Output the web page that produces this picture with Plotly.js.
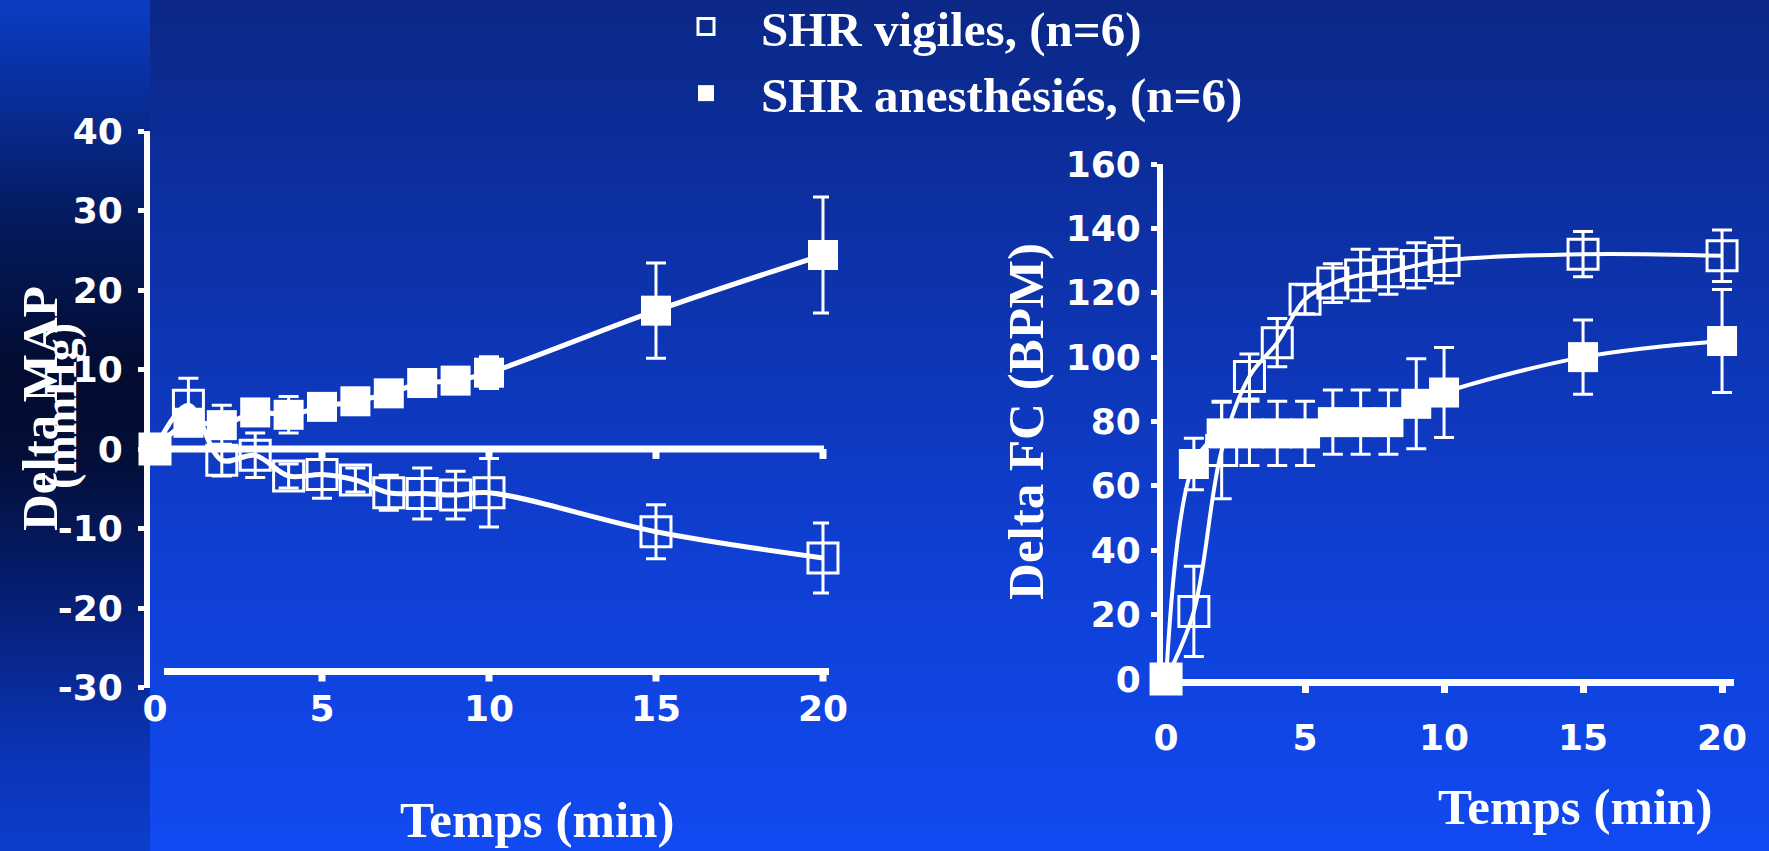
<!DOCTYPE html>
<html>
<head>
<meta charset="utf-8">
<script src="https://cdn.plot.ly/plotly-3.0.1.min.js"></script>
<style>
  html, body { margin: 0; padding: 0; overflow: hidden; }
  #bg { position: absolute; left: 0; top: 0; width: 1769px; height: 851px;
        background: linear-gradient(to bottom, #0b2887 0%, #0d33ad 35%, #0f3fd2 65%, #114af2 100%); }
  #strip { position: absolute; left: 0; top: 0; width: 150px; height: 851px;
        background: linear-gradient(to bottom, #0b3cc4 0%, #082d98 12%, #041a5c 26%, #020c30 44%, #030f38 54%, #06207a 72%, #0b34b4 88%, #0d3dcc 100%); }
  #chart { position: absolute; left: 0; top: 0; width: 1769px; height: 851px; }
</style>
</head>
<body>
<div id="bg"></div>
<div id="strip"></div>
<div id="chart"></div>
<script>
// ---------- data ----------
const time = [0, 1, 2, 3, 4, 5, 6, 7, 8, 9, 10, 15, 20];

// Delta MAP (mmHg)
const mapVigiles    = [0, 5.5, -1.4, -0.8, -3.4, -3.2, -3.9, -5.5, -5.6, -5.8, -5.5, -10.4, -13.7];
const mapVigilesErr = [0, 3.4, 2.0, 2.8, 1.5, 3.0, 1.5, 2.2, 3.2, 3.0, 4.3, 3.4, 4.4];
const mapAnesth     = [0, 3.3, 3.0, 4.6, 4.3, 5.3, 6.0, 7.0, 8.3, 8.6, 9.6, 17.4, 24.4];
const mapAnesthErr  = [0, 1.5, 2.5, 1.5, 2.3, 1.5, 1.2, 1.2, 1.2, 1.0, 2.0, 6.0, 7.3];

// Delta FC (BPM)
const fcVigiles     = [0, 21, 71, 94, 104.5, 118, 123, 125.5, 126.5, 128.5, 130, 132, 131.5];
const fcVigilesErr  = [0, 14, 15, 7, 7.5, 4.5, 6, 8, 7, 7, 7, 7, 8];
const fcAnesth      = [0, 66.8, 76.3, 76.3, 76.3, 76.3, 79.8, 79.8, 79.8, 85.5, 89, 100, 105];
const fcAnesthErr   = [0, 8, 10, 10, 10, 10, 10, 10, 10, 14, 14, 11.5, 16];

const xTicks = [0, 5, 10, 15, 20];
const refTicks = [5, 10, 15, 20];
const mapTicks = [-30, -20, -10, 0, 10, 20, 30, 40];
const mapTickText = ['-30', '-20', '-10', '0', '10', '20', '30', '40'];
const seriesNames = ['SHR vigiles, (n=6)', 'SHR anesthésiés, (n=6)'];
const titleMAP = 'Delta MAP';
const unitMAP = '(mmHg)';
const titleFC = 'Delta FC (BPM)';
const titleTime = 'Temps (min)';

// ---------- styling ----------
const W = 1769, H = 851;
const WHITE = '#ffffff';
const serif = 'Liberation Serif, Times New Roman, serif';
const sans = 'DejaVu Sans, Verdana, sans-serif';
const tickFont = { family: sans, size: 36, color: WHITE, weight: 'bold' };
const px = v => v / W;
const py = v => 1 - v / H;

function lineTrace(y, xa, ya, w) {
  return { x: time, y: y, xaxis: xa, yaxis: ya, mode: 'lines', showlegend: false,
           hoverinfo: 'skip', cliponaxis: false,
           line: { shape: 'spline', smoothing: 1, color: WHITE, width: w } };
}
function markerTrace(y, err, xa, ya, filled, name, showlegend) {
  return { x: time, y: y, xaxis: xa, yaxis: ya, mode: 'markers', name: name,
           showlegend: showlegend, legendrank: filled ? 2 : 1, cliponaxis: false,
           marker: { symbol: filled ? 'square' : 'square-open', size: 30, color: WHITE,
                     line: { color: WHITE, width: filled ? 0 : 3 } },
           error_y: { type: 'data', array: err, visible: true, color: WHITE, thickness: 3, width: 10 } };
}

const traces = [
  lineTrace(mapVigiles, 'x', 'y', 5),
  lineTrace(mapAnesth, 'x', 'y', 5),
  lineTrace(fcVigiles, 'x2', 'y2', 4),
  lineTrace(fcAnesth, 'x2', 'y2', 4),
  markerTrace(mapVigiles, mapVigilesErr, 'x', 'y', false, seriesNames[0], true),
  markerTrace(mapAnesth, mapAnesthErr, 'x', 'y', true, seriesNames[1], true),
  markerTrace(fcVigiles, fcVigilesErr, 'x2', 'y2', false, seriesNames[0], false),
  markerTrace(fcAnesth, fcAnesthErr, 'x2', 'y2', true, seriesNames[1], false)
];

// reference lines of the left panel (zero line and lower baseline) with their tick marks
const shapes = [];
const leftRefLines = [ { y: 0, x0: -0.15, x1: 20.03 }, { y: -28, x0: 0.27, x1: 20.2 } ];
leftRefLines.forEach(r => {
  shapes.push({ type: 'line', xref: 'x', yref: 'y', x0: r.x0, x1: r.x1, y0: r.y, y1: r.y,
                line: { color: WHITE, width: 7 }, layer: 'below' });
  refTicks.forEach(t => shapes.push({ type: 'line', xref: 'x', yref: 'y', x0: t, x1: t,
                y0: r.y, y1: r.y - 1.25, line: { color: WHITE, width: 7 }, layer: 'below' }));
});

const layout = {
  width: W, height: H,
  margin: { l: 0, r: 0, t: 0, b: 0, autoexpand: false },
  paper_bgcolor: 'rgba(0,0,0,0)',
  plot_bgcolor: 'rgba(0,0,0,0)',
  showlegend: true,
  legend: { x: px(651), y: 1.014, xanchor: 'left', yanchor: 'top', orientation: 'v',
            bgcolor: 'rgba(0,0,0,0)', itemsizing: 'trace', itemwidth: 100,
            font: { family: serif, size: 49, color: WHITE, weight: 'bold' } },
  xaxis: { domain: [px(150), px(829)], range: [-0.15, 20.18], anchor: 'y', automargin: false,
           showline: false, zeroline: false, showgrid: false, ticks: '',
           tickmode: 'array', tickvals: xTicks, tickfont: tickFont, ticklabelstandoff: -4 },
  yaxis: { domain: [py(687.5), py(131)], range: [-30, 40], anchor: 'x', automargin: false,
           showline: true, linecolor: WHITE, linewidth: 6, zeroline: false, showgrid: false,
           ticks: 'outside', ticklen: 6, tickwidth: 5, tickcolor: WHITE,
           tickmode: 'array', tickvals: mapTicks, ticktext: mapTickText,
           tickfont: tickFont, ticklabelstandoff: 8 },
  xaxis2: { domain: [px(1163), px(1734)], range: [-0.11, 20.43], anchor: 'y2', automargin: false,
            showline: true, linecolor: WHITE, linewidth: 7, zeroline: false, showgrid: false,
            ticks: 'outside', ticklen: 7, tickwidth: 7, tickcolor: WHITE,
            tickmode: 'array', tickvals: xTicks, tickfont: tickFont, ticklabelstandoff: 14 },
  yaxis2: { domain: [py(679), py(164)], range: [0, 160], anchor: 'x2', automargin: false,
            showline: true, linecolor: WHITE, linewidth: 6, zeroline: false, showgrid: false,
            ticks: 'outside', ticklen: 6, tickwidth: 5, tickcolor: WHITE, dtick: 20,
            tickfont: tickFont, ticklabelstandoff: 3,
            title: { text: titleFC, standoff: 8, font: { family: serif, size: 51, color: WHITE, weight: 'bold' } } },
  shapes: shapes,
  annotations: [
    { xref: 'paper', yref: 'paper', x: px(40), y: py(409), text: titleMAP, textangle: -90,
      showarrow: false, xanchor: 'center', yanchor: 'middle',
      font: { family: serif, size: 51, color: WHITE, weight: 'bold' } },
    { xref: 'paper', yref: 'paper', x: px(60), y: py(406), text: unitMAP, textangle: -90,
      showarrow: false, xanchor: 'center', yanchor: 'middle',
      font: { family: serif, size: 46, color: WHITE, weight: 'bold' } },
    { xref: 'paper', yref: 'paper', x: px(537), y: py(820), text: titleTime,
      showarrow: false, xanchor: 'center', yanchor: 'middle',
      font: { family: serif, size: 51, color: WHITE, weight: 'bold' } },
    { xref: 'paper', yref: 'paper', x: px(1575), y: py(807), text: titleTime,
      showarrow: false, xanchor: 'center', yanchor: 'middle',
      font: { family: serif, size: 51, color: WHITE, weight: 'bold' } }
  ]
};

Plotly.newPlot('chart', traces, layout, { displayModeBar: false, staticPlot: true });
</script>
</body>
</html>
